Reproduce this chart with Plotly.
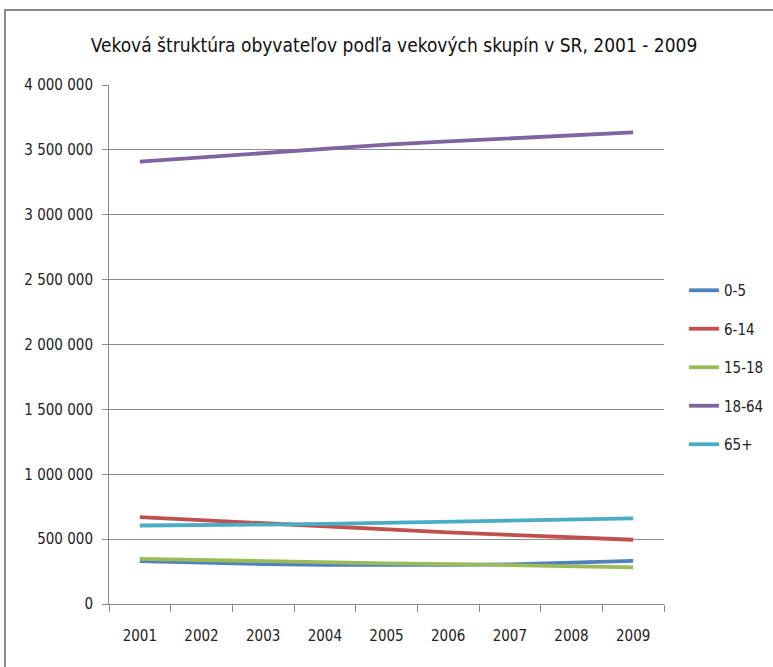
import plotly.graph_objects as go

years = ["2001", "2002", "2003", "2004", "2005", "2006", "2007", "2008", "2009"]
age_0_5 = [330000, 318000, 308000, 302000, 300000, 301000, 306000, 316000, 333000]
age_6_14 = [670000, 645000, 620000, 598000, 575000, 552000, 532000, 510000, 495000]
age_15_18 = [348000, 338000, 328000, 320000, 313000, 308000, 300000, 295000, 283000]
age_18_64 = [3410000, 3443000, 3480000, 3510000, 3540000, 3565000, 3590000, 3615000, 3635000]
age_65 = [605000, 605000, 612000, 618000, 627000, 635000, 643000, 652000, 660000]

series_names = ["0-5", "6-14", "15-18", "18-64", "65+"]
series_values = [age_0_5, age_6_14, age_15_18, age_18_64, age_65]
colors = ["#4F81BD", "#C0504D", "#9BBB59", "#8064A2", "#4BACC6"]

y_tickvals = [0, 500000, 1000000, 1500000, 2000000, 2500000, 3000000, 3500000, 4000000]
y_ticktext = ["0", "500 000", "1 000 000", "1 500 000", "2 000 000", "2 500 000",
              "3 000 000", "3 500 000", "4 000 000"]

title = "Veková štruktúra obyvateľov podľa vekových skupín v SR, 2001 - 2009"

FONT = "DejaVu Sans Condensed, Liberation Sans Narrow, sans-serif"

fig = go.Figure()
for name, vals, col in zip(series_names, series_values, colors):
    fig.add_trace(go.Scatter(
        x=years, y=vals, name=name, mode="lines",
        line=dict(color=col, width=3.8), legendgroup=name,
    ))

W, H = 773, 667
ml, mr, mt, mb = 109, 109, 85, 63
pw = W - ml - mr
ph = H - mt - mb

def px_x(px):
    return (px - ml) / pw

def px_y(py):
    return (H - mb - py) / ph

fig.update_layout(
    width=W, height=H,
    margin=dict(l=ml, r=mr, t=mt, b=mb, pad=0, autoexpand=False),
    paper_bgcolor="white", plot_bgcolor="white",
    font=dict(family=FONT, size=15, color="#222222"),
    title=dict(text=title, x=394 / W, xanchor="center", y=1 - 45 / H, yanchor="middle",
               font=dict(family=FONT, size=19, color="#111111")),
    showlegend=True,
    legend=dict(x=px_x(684), y=px_y(274), xanchor="left", yanchor="top",
                font=dict(family=FONT, size=15, color="#222222"),
                traceorder="grouped", tracegroupgap=16,
                bgcolor="rgba(0,0,0,0)", itemwidth=30),
    xaxis=dict(type="category", showgrid=False, showline=True, linecolor="#888888",
               linewidth=1, ticks="outside", tickson="boundaries", ticklen=7,
               tickcolor="#888888", tickfont=dict(size=15, family=FONT, color="#222222"),
               ticklabelstandoff=18, range=[-0.5, 8.5], fixedrange=True),
    yaxis=dict(range=[0, 4000000], tickvals=y_tickvals, ticktext=y_ticktext,
               showgrid=True, gridcolor="#8c8c8c", gridwidth=1,
               showline=True, linecolor="#888888", linewidth=1,
               ticks="outside", ticklen=6, tickcolor="#888888",
               tickfont=dict(size=15, family=FONT, color="#222222"),
               ticklabelstandoff=6, zeroline=False, fixedrange=True),
    shapes=[dict(type="rect", xref="paper", yref="paper",
                 x0=px_x(5), x1=px_x(790), y0=px_y(690), y1=px_y(10),
                 line=dict(color="#8a8a8a", width=2), fillcolor="rgba(0,0,0,0)",
                 layer="below")],
)

fig.write_html("out.html", config={"displayModeBar": False},
               post_script="document.body.style.margin='0px';")
